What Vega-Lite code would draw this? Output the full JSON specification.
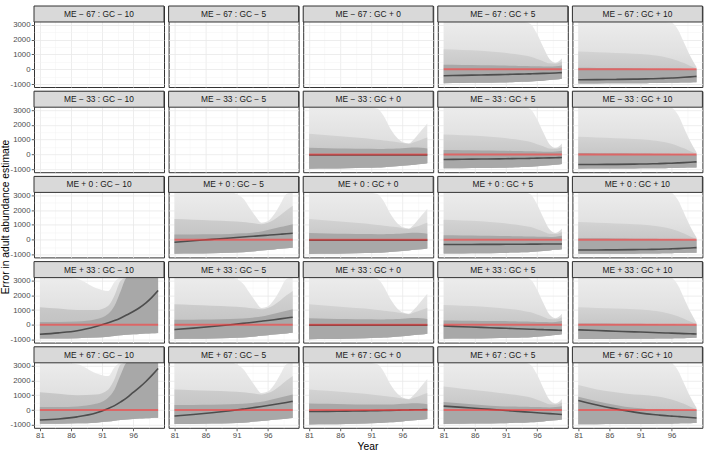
{
"$schema": "https://vega.github.io/schema/vega-lite/v6.json",
"padding": {"left": 0, "top": 5, "right": 3, "bottom": 0},
"bounds": "flush",
"config": {
  "font": "Liberation Sans",
  "view": {"stroke": "#333333", "strokeWidth": 1},
  "axis": {"domain": false, "labelColor": "#4d4d4d", "labelFontSize": 7.8, "tickColor": "#333333", "tickSize": 2.75, "tickWidth": 0.8, "labelPadding": 1.2, "labelOverlap": false, "tickCount": 20},
  "header": {"titleFontSize": 10.3, "titleFontWeight": "normal", "titleColor": "#000000", "labelPadding": 0}
},
"data": {"values": [
{"m":"ME − 67","g":"GC − 10","lab":"ME − 67 : GC − 10"},
{"m":"ME − 67","g":"GC − 5","lab":"ME − 67 : GC − 5"},
{"m":"ME − 67","g":"GC + 0","lab":"ME − 67 : GC + 0"},
{"m":"ME − 67","g":"GC + 5","lab":"ME − 67 : GC + 5"},
{"m":"ME − 67","g":"GC + 10","lab":"ME − 67 : GC + 10"},
{"m":"ME − 33","g":"GC − 10","lab":"ME − 33 : GC − 10"},
{"m":"ME − 33","g":"GC − 5","lab":"ME − 33 : GC − 5"},
{"m":"ME − 33","g":"GC + 0","lab":"ME − 33 : GC + 0"},
{"m":"ME − 33","g":"GC + 5","lab":"ME − 33 : GC + 5"},
{"m":"ME − 33","g":"GC + 10","lab":"ME − 33 : GC + 10"},
{"m":"ME + 0","g":"GC − 10","lab":"ME + 0 : GC − 10"},
{"m":"ME + 0","g":"GC − 5","lab":"ME + 0 : GC − 5"},
{"m":"ME + 0","g":"GC + 0","lab":"ME + 0 : GC + 0"},
{"m":"ME + 0","g":"GC + 5","lab":"ME + 0 : GC + 5"},
{"m":"ME + 0","g":"GC + 10","lab":"ME + 0 : GC + 10"},
{"m":"ME + 33","g":"GC − 10","lab":"ME + 33 : GC − 10"},
{"m":"ME + 33","g":"GC − 5","lab":"ME + 33 : GC − 5"},
{"m":"ME + 33","g":"GC + 0","lab":"ME + 33 : GC + 0"},
{"m":"ME + 33","g":"GC + 5","lab":"ME + 33 : GC + 5"},
{"m":"ME + 33","g":"GC + 10","lab":"ME + 33 : GC + 10"},
{"m":"ME + 67","g":"GC − 10","lab":"ME + 67 : GC − 10"},
{"m":"ME + 67","g":"GC − 5","lab":"ME + 67 : GC − 5"},
{"m":"ME + 67","g":"GC + 0","lab":"ME + 67 : GC + 0"},
{"m":"ME + 67","g":"GC + 5","lab":"ME + 67 : GC + 5"},
{"m":"ME + 67","g":"GC + 10","lab":"ME + 67 : GC + 10"},

{"m":"ME − 67","g":"GC + 5","x":81,"lo":-940,"c":300,"md":1350,"hi":3200,"t":-435},
{"m":"ME − 67","g":"GC + 5","x":84,"lo":-930,"c":285,"md":1300,"hi":3200,"t":-410},
{"m":"ME − 67","g":"GC + 5","x":87,"lo":-915,"c":270,"md":1250,"hi":3200,"t":-385},
{"m":"ME − 67","g":"GC + 5","x":90,"lo":-895,"c":255,"md":1150,"hi":3200,"t":-360},
{"m":"ME − 67","g":"GC + 5","x":92,"lo":-875,"c":240,"md":1050,"hi":3200,"t":-340},
{"m":"ME − 67","g":"GC + 5","x":93,"lo":-865,"c":230,"md":1000,"hi":3200,"t":-330},
{"m":"ME − 67","g":"GC + 5","x":94,"lo":-850,"c":220,"md":930,"hi":3200,"t":-320},
{"m":"ME − 67","g":"GC + 5","x":95,"lo":-830,"c":210,"md":850,"hi":3050,"t":-310},
{"m":"ME − 67","g":"GC + 5","x":96,"lo":-800,"c":200,"md":700,"hi":2400,"t":-295},
{"m":"ME − 67","g":"GC + 5","x":97,"lo":-770,"c":190,"md":550,"hi":1500,"t":-280},
{"m":"ME − 67","g":"GC + 5","x":98,"lo":-730,"c":180,"md":400,"hi":700,"t":-265},
{"m":"ME − 67","g":"GC + 5","x":99,"lo":-690,"c":200,"md":380,"hi":450,"t":-248},
{"m":"ME − 67","g":"GC + 5","x":100,"lo":-640,"c":260,"md":520,"hi":750,"t":-230},

{"m":"ME − 67","g":"GC + 10","x":81,"lo":-960,"c":100,"md":1200,"hi":3200,"t":-710},
{"m":"ME − 67","g":"GC + 10","x":84,"lo":-955,"c":90,"md":1150,"hi":3200,"t":-700},
{"m":"ME − 67","g":"GC + 10","x":87,"lo":-950,"c":80,"md":1100,"hi":3200,"t":-688},
{"m":"ME − 67","g":"GC + 10","x":90,"lo":-945,"c":70,"md":1050,"hi":3200,"t":-670},
{"m":"ME − 67","g":"GC + 10","x":92,"lo":-940,"c":60,"md":1000,"hi":3200,"t":-650},
{"m":"ME − 67","g":"GC + 10","x":93,"lo":-935,"c":55,"md":950,"hi":3200,"t":-640},
{"m":"ME − 67","g":"GC + 10","x":94,"lo":-930,"c":50,"md":900,"hi":3200,"t":-625},
{"m":"ME − 67","g":"GC + 10","x":95,"lo":-925,"c":45,"md":820,"hi":3200,"t":-610},
{"m":"ME − 67","g":"GC + 10","x":96,"lo":-920,"c":40,"md":720,"hi":3150,"t":-590},
{"m":"ME − 67","g":"GC + 10","x":97,"lo":-910,"c":30,"md":580,"hi":2700,"t":-570},
{"m":"ME − 67","g":"GC + 10","x":98,"lo":-900,"c":20,"md":420,"hi":1800,"t":-545},
{"m":"ME − 67","g":"GC + 10","x":99,"lo":-890,"c":10,"md":220,"hi":900,"t":-515},
{"m":"ME − 67","g":"GC + 10","x":100,"lo":-880,"c":0,"md":60,"hi":150,"t":-480},

{"m":"ME − 33","g":"GC + 0","x":81,"lo":-970,"c":450,"md":1400,"hi":3200,"t":-40},
{"m":"ME − 33","g":"GC + 0","x":84,"lo":-955,"c":420,"md":1300,"hi":3200,"t":-40},
{"m":"ME − 33","g":"GC + 0","x":87,"lo":-935,"c":400,"md":1200,"hi":3200,"t":-40},
{"m":"ME − 33","g":"GC + 0","x":90,"lo":-905,"c":380,"md":1100,"hi":3200,"t":-40},
{"m":"ME − 33","g":"GC + 0","x":92,"lo":-880,"c":370,"md":1000,"hi":3100,"t":-40},
{"m":"ME − 33","g":"GC + 0","x":93,"lo":-860,"c":370,"md":950,"hi":2600,"t":-40},
{"m":"ME − 33","g":"GC + 0","x":94,"lo":-830,"c":380,"md":900,"hi":1800,"t":-40},
{"m":"ME − 33","g":"GC + 0","x":95,"lo":-800,"c":400,"md":850,"hi":1200,"t":-40},
{"m":"ME − 33","g":"GC + 0","x":96,"lo":-770,"c":420,"md":780,"hi":850,"t":-40},
{"m":"ME − 33","g":"GC + 0","x":97,"lo":-730,"c":450,"md":720,"hi":750,"t":-40},
{"m":"ME − 33","g":"GC + 0","x":98,"lo":-690,"c":470,"md":850,"hi":1100,"t":-40},
{"m":"ME − 33","g":"GC + 0","x":99,"lo":-650,"c":450,"md":1000,"hi":1600,"t":-40},
{"m":"ME − 33","g":"GC + 0","x":100,"lo":-600,"c":400,"md":1150,"hi":2100,"t":-40},

{"m":"ME − 33","g":"GC + 5","x":81,"lo":-940,"c":300,"md":1350,"hi":3200,"t":-340},
{"m":"ME − 33","g":"GC + 5","x":84,"lo":-930,"c":285,"md":1300,"hi":3200,"t":-325},
{"m":"ME − 33","g":"GC + 5","x":87,"lo":-915,"c":270,"md":1250,"hi":3200,"t":-310},
{"m":"ME − 33","g":"GC + 5","x":90,"lo":-895,"c":255,"md":1150,"hi":3200,"t":-295},
{"m":"ME − 33","g":"GC + 5","x":92,"lo":-875,"c":240,"md":1050,"hi":3200,"t":-282},
{"m":"ME − 33","g":"GC + 5","x":93,"lo":-865,"c":230,"md":1000,"hi":3200,"t":-275},
{"m":"ME − 33","g":"GC + 5","x":94,"lo":-850,"c":220,"md":930,"hi":3200,"t":-268},
{"m":"ME − 33","g":"GC + 5","x":95,"lo":-830,"c":210,"md":850,"hi":3050,"t":-260},
{"m":"ME − 33","g":"GC + 5","x":96,"lo":-800,"c":200,"md":700,"hi":2400,"t":-250},
{"m":"ME − 33","g":"GC + 5","x":97,"lo":-770,"c":190,"md":550,"hi":1500,"t":-240},
{"m":"ME − 33","g":"GC + 5","x":98,"lo":-730,"c":180,"md":400,"hi":700,"t":-230},
{"m":"ME − 33","g":"GC + 5","x":99,"lo":-690,"c":200,"md":380,"hi":450,"t":-220},
{"m":"ME − 33","g":"GC + 5","x":100,"lo":-640,"c":260,"md":520,"hi":750,"t":-210},

{"m":"ME − 33","g":"GC + 10","x":81,"lo":-960,"c":100,"md":1200,"hi":3200,"t":-680},
{"m":"ME − 33","g":"GC + 10","x":84,"lo":-955,"c":90,"md":1150,"hi":3200,"t":-675},
{"m":"ME − 33","g":"GC + 10","x":87,"lo":-950,"c":80,"md":1100,"hi":3200,"t":-668},
{"m":"ME − 33","g":"GC + 10","x":90,"lo":-945,"c":70,"md":1050,"hi":3200,"t":-655},
{"m":"ME − 33","g":"GC + 10","x":92,"lo":-940,"c":60,"md":1000,"hi":3200,"t":-640},
{"m":"ME − 33","g":"GC + 10","x":93,"lo":-935,"c":55,"md":950,"hi":3200,"t":-630},
{"m":"ME − 33","g":"GC + 10","x":94,"lo":-930,"c":50,"md":900,"hi":3200,"t":-620},
{"m":"ME − 33","g":"GC + 10","x":95,"lo":-925,"c":45,"md":820,"hi":3200,"t":-605},
{"m":"ME − 33","g":"GC + 10","x":96,"lo":-920,"c":40,"md":720,"hi":3150,"t":-590},
{"m":"ME − 33","g":"GC + 10","x":97,"lo":-910,"c":30,"md":580,"hi":2700,"t":-570},
{"m":"ME − 33","g":"GC + 10","x":98,"lo":-900,"c":20,"md":420,"hi":1800,"t":-550},
{"m":"ME − 33","g":"GC + 10","x":99,"lo":-890,"c":10,"md":220,"hi":900,"t":-525},
{"m":"ME − 33","g":"GC + 10","x":100,"lo":-880,"c":0,"md":60,"hi":150,"t":-500},

{"m":"ME + 0","g":"GC − 5","x":81,"lo":-950,"c":350,"md":1400,"hi":3200,"t":-170},
{"m":"ME + 0","g":"GC − 5","x":84,"lo":-935,"c":350,"md":1350,"hi":3200,"t":-75},
{"m":"ME + 0","g":"GC − 5","x":87,"lo":-915,"c":360,"md":1300,"hi":3200,"t":20},
{"m":"ME + 0","g":"GC − 5","x":90,"lo":-885,"c":390,"md":1250,"hi":3200,"t":115},
{"m":"ME + 0","g":"GC − 5","x":92,"lo":-850,"c":430,"md":1200,"hi":2800,"t":178},
{"m":"ME + 0","g":"GC − 5","x":93,"lo":-820,"c":460,"md":1150,"hi":2200,"t":210},
{"m":"ME + 0","g":"GC − 5","x":94,"lo":-780,"c":510,"md":1100,"hi":1600,"t":240},
{"m":"ME + 0","g":"GC − 5","x":95,"lo":-740,"c":560,"md":1050,"hi":1150,"t":272},
{"m":"ME + 0","g":"GC − 5","x":96,"lo":-700,"c":650,"md":1150,"hi":1250,"t":304},
{"m":"ME + 0","g":"GC − 5","x":97,"lo":-660,"c":750,"md":1350,"hi":1700,"t":335},
{"m":"ME + 0","g":"GC − 5","x":98,"lo":-620,"c":850,"md":1650,"hi":2400,"t":367},
{"m":"ME + 0","g":"GC − 5","x":99,"lo":-580,"c":950,"md":2000,"hi":3100,"t":398},
{"m":"ME + 0","g":"GC − 5","x":100,"lo":-540,"c":1050,"md":2300,"hi":3200,"t":430},

{"m":"ME + 0","g":"GC + 0","x":81,"lo":-970,"c":450,"md":1400,"hi":3200,"t":-30},
{"m":"ME + 0","g":"GC + 0","x":84,"lo":-955,"c":420,"md":1300,"hi":3200,"t":-30},
{"m":"ME + 0","g":"GC + 0","x":87,"lo":-935,"c":400,"md":1200,"hi":3200,"t":-30},
{"m":"ME + 0","g":"GC + 0","x":90,"lo":-905,"c":380,"md":1100,"hi":3200,"t":-30},
{"m":"ME + 0","g":"GC + 0","x":92,"lo":-880,"c":370,"md":1000,"hi":3100,"t":-30},
{"m":"ME + 0","g":"GC + 0","x":93,"lo":-860,"c":370,"md":950,"hi":2600,"t":-30},
{"m":"ME + 0","g":"GC + 0","x":94,"lo":-830,"c":380,"md":900,"hi":1800,"t":-30},
{"m":"ME + 0","g":"GC + 0","x":95,"lo":-800,"c":400,"md":850,"hi":1200,"t":-30},
{"m":"ME + 0","g":"GC + 0","x":96,"lo":-770,"c":420,"md":780,"hi":850,"t":-30},
{"m":"ME + 0","g":"GC + 0","x":97,"lo":-730,"c":450,"md":720,"hi":750,"t":-30},
{"m":"ME + 0","g":"GC + 0","x":98,"lo":-690,"c":470,"md":850,"hi":1100,"t":-30},
{"m":"ME + 0","g":"GC + 0","x":99,"lo":-650,"c":450,"md":1000,"hi":1600,"t":-30},
{"m":"ME + 0","g":"GC + 0","x":100,"lo":-600,"c":400,"md":1150,"hi":2100,"t":-30},

{"m":"ME + 0","g":"GC + 5","x":81,"lo":-940,"c":300,"md":1350,"hi":3200,"t":-330},
{"m":"ME + 0","g":"GC + 5","x":84,"lo":-930,"c":285,"md":1300,"hi":3200,"t":-325},
{"m":"ME + 0","g":"GC + 5","x":87,"lo":-915,"c":270,"md":1250,"hi":3200,"t":-320},
{"m":"ME + 0","g":"GC + 5","x":90,"lo":-895,"c":255,"md":1150,"hi":3200,"t":-315},
{"m":"ME + 0","g":"GC + 5","x":92,"lo":-875,"c":240,"md":1050,"hi":3200,"t":-310},
{"m":"ME + 0","g":"GC + 5","x":93,"lo":-865,"c":230,"md":1000,"hi":3200,"t":-308},
{"m":"ME + 0","g":"GC + 5","x":94,"lo":-850,"c":220,"md":930,"hi":3200,"t":-305},
{"m":"ME + 0","g":"GC + 5","x":95,"lo":-830,"c":210,"md":850,"hi":3050,"t":-302},
{"m":"ME + 0","g":"GC + 5","x":96,"lo":-800,"c":200,"md":700,"hi":2400,"t":-300},
{"m":"ME + 0","g":"GC + 5","x":97,"lo":-770,"c":190,"md":550,"hi":1500,"t":-298},
{"m":"ME + 0","g":"GC + 5","x":98,"lo":-730,"c":180,"md":400,"hi":700,"t":-295},
{"m":"ME + 0","g":"GC + 5","x":99,"lo":-690,"c":200,"md":380,"hi":450,"t":-292},
{"m":"ME + 0","g":"GC + 5","x":100,"lo":-640,"c":260,"md":520,"hi":750,"t":-290},

{"m":"ME + 0","g":"GC + 10","x":81,"lo":-960,"c":100,"md":1200,"hi":3200,"t":-700},
{"m":"ME + 0","g":"GC + 10","x":84,"lo":-955,"c":90,"md":1150,"hi":3200,"t":-695},
{"m":"ME + 0","g":"GC + 10","x":87,"lo":-950,"c":80,"md":1100,"hi":3200,"t":-688},
{"m":"ME + 0","g":"GC + 10","x":90,"lo":-945,"c":70,"md":1050,"hi":3200,"t":-675},
{"m":"ME + 0","g":"GC + 10","x":92,"lo":-940,"c":60,"md":1000,"hi":3200,"t":-662},
{"m":"ME + 0","g":"GC + 10","x":93,"lo":-935,"c":55,"md":950,"hi":3200,"t":-655},
{"m":"ME + 0","g":"GC + 10","x":94,"lo":-930,"c":50,"md":900,"hi":3200,"t":-645},
{"m":"ME + 0","g":"GC + 10","x":95,"lo":-925,"c":45,"md":820,"hi":3200,"t":-633},
{"m":"ME + 0","g":"GC + 10","x":96,"lo":-920,"c":40,"md":720,"hi":3150,"t":-620},
{"m":"ME + 0","g":"GC + 10","x":97,"lo":-910,"c":30,"md":580,"hi":2700,"t":-605},
{"m":"ME + 0","g":"GC + 10","x":98,"lo":-900,"c":20,"md":420,"hi":1800,"t":-585},
{"m":"ME + 0","g":"GC + 10","x":99,"lo":-890,"c":10,"md":220,"hi":900,"t":-563},
{"m":"ME + 0","g":"GC + 10","x":100,"lo":-880,"c":0,"md":60,"hi":150,"t":-540},

{"m":"ME + 33","g":"GC − 10","x":81,"lo":-930,"c":200,"md":1200,"hi":3200,"t":-632},
{"m":"ME + 33","g":"GC − 10","x":84,"lo":-920,"c":200,"md":1100,"hi":3200,"t":-540},
{"m":"ME + 33","g":"GC − 10","x":87,"lo":-900,"c":230,"md":1000,"hi":3100,"t":-400},
{"m":"ME + 33","g":"GC − 10","x":90,"lo":-860,"c":380,"md":1000,"hi":2500,"t":-110},
{"m":"ME + 33","g":"GC − 10","x":92,"lo":-800,"c":750,"md":1300,"hi":2300,"t":140},
{"m":"ME + 33","g":"GC − 10","x":93,"lo":-760,"c":1300,"md":2000,"hi":2900,"t":290},
{"m":"ME + 33","g":"GC − 10","x":94,"lo":-710,"c":2300,"md":3000,"hi":3200,"t":470},
{"m":"ME + 33","g":"GC − 10","x":95,"lo":-670,"c":3200,"md":3200,"hi":3200,"t":680},
{"m":"ME + 33","g":"GC − 10","x":96,"lo":-640,"c":3200,"md":3200,"hi":3200,"t":903},
{"m":"ME + 33","g":"GC − 10","x":97,"lo":-610,"c":3200,"md":3200,"hi":3200,"t":1160},
{"m":"ME + 33","g":"GC − 10","x":98,"lo":-590,"c":3200,"md":3200,"hi":3200,"t":1470},
{"m":"ME + 33","g":"GC − 10","x":99,"lo":-570,"c":3200,"md":3200,"hi":3200,"t":1860},
{"m":"ME + 33","g":"GC − 10","x":100,"lo":-550,"c":3200,"md":3200,"hi":3200,"t":2325},

{"m":"ME + 33","g":"GC − 5","x":81,"lo":-950,"c":350,"md":1400,"hi":3200,"t":-320},
{"m":"ME + 33","g":"GC − 5","x":84,"lo":-935,"c":350,"md":1350,"hi":3200,"t":-223},
{"m":"ME + 33","g":"GC − 5","x":87,"lo":-915,"c":360,"md":1300,"hi":3200,"t":-113},
{"m":"ME + 33","g":"GC − 5","x":90,"lo":-885,"c":390,"md":1250,"hi":3200,"t":11},
{"m":"ME + 33","g":"GC − 5","x":92,"lo":-850,"c":430,"md":1200,"hi":2800,"t":101},
{"m":"ME + 33","g":"GC − 5","x":93,"lo":-820,"c":460,"md":1150,"hi":2200,"t":148},
{"m":"ME + 33","g":"GC − 5","x":94,"lo":-780,"c":510,"md":1100,"hi":1600,"t":197},
{"m":"ME + 33","g":"GC − 5","x":95,"lo":-740,"c":560,"md":1050,"hi":1150,"t":247},
{"m":"ME + 33","g":"GC − 5","x":96,"lo":-700,"c":650,"md":1150,"hi":1250,"t":299},
{"m":"ME + 33","g":"GC − 5","x":97,"lo":-660,"c":750,"md":1350,"hi":1700,"t":352},
{"m":"ME + 33","g":"GC − 5","x":98,"lo":-620,"c":850,"md":1650,"hi":2400,"t":407},
{"m":"ME + 33","g":"GC − 5","x":99,"lo":-580,"c":950,"md":2000,"hi":3100,"t":463},
{"m":"ME + 33","g":"GC − 5","x":100,"lo":-540,"c":1050,"md":2300,"hi":3200,"t":520},

{"m":"ME + 33","g":"GC + 0","x":81,"lo":-970,"c":450,"md":1400,"hi":3200,"t":-20},
{"m":"ME + 33","g":"GC + 0","x":84,"lo":-955,"c":420,"md":1300,"hi":3200,"t":-20},
{"m":"ME + 33","g":"GC + 0","x":87,"lo":-935,"c":400,"md":1200,"hi":3200,"t":-20},
{"m":"ME + 33","g":"GC + 0","x":90,"lo":-905,"c":380,"md":1100,"hi":3200,"t":-20},
{"m":"ME + 33","g":"GC + 0","x":92,"lo":-880,"c":370,"md":1000,"hi":3100,"t":-20},
{"m":"ME + 33","g":"GC + 0","x":93,"lo":-860,"c":370,"md":950,"hi":2600,"t":-20},
{"m":"ME + 33","g":"GC + 0","x":94,"lo":-830,"c":380,"md":900,"hi":1800,"t":-20},
{"m":"ME + 33","g":"GC + 0","x":95,"lo":-800,"c":400,"md":850,"hi":1200,"t":-20},
{"m":"ME + 33","g":"GC + 0","x":96,"lo":-770,"c":420,"md":780,"hi":850,"t":-20},
{"m":"ME + 33","g":"GC + 0","x":97,"lo":-730,"c":450,"md":720,"hi":750,"t":-20},
{"m":"ME + 33","g":"GC + 0","x":98,"lo":-690,"c":470,"md":850,"hi":1100,"t":-20},
{"m":"ME + 33","g":"GC + 0","x":99,"lo":-650,"c":450,"md":1000,"hi":1600,"t":-20},
{"m":"ME + 33","g":"GC + 0","x":100,"lo":-600,"c":400,"md":1150,"hi":2100,"t":-20},

{"m":"ME + 33","g":"GC + 5","x":81,"lo":-940,"c":300,"md":1350,"hi":3200,"t":-80},
{"m":"ME + 33","g":"GC + 5","x":84,"lo":-930,"c":285,"md":1300,"hi":3200,"t":-126},
{"m":"ME + 33","g":"GC + 5","x":87,"lo":-915,"c":270,"md":1250,"hi":3200,"t":-172},
{"m":"ME + 33","g":"GC + 5","x":90,"lo":-895,"c":255,"md":1150,"hi":3200,"t":-217},
{"m":"ME + 33","g":"GC + 5","x":92,"lo":-875,"c":240,"md":1050,"hi":3200,"t":-248},
{"m":"ME + 33","g":"GC + 5","x":93,"lo":-865,"c":230,"md":1000,"hi":3200,"t":-263},
{"m":"ME + 33","g":"GC + 5","x":94,"lo":-850,"c":220,"md":930,"hi":3200,"t":-279},
{"m":"ME + 33","g":"GC + 5","x":95,"lo":-830,"c":210,"md":850,"hi":3050,"t":-294},
{"m":"ME + 33","g":"GC + 5","x":96,"lo":-800,"c":200,"md":700,"hi":2400,"t":-309},
{"m":"ME + 33","g":"GC + 5","x":97,"lo":-770,"c":190,"md":550,"hi":1500,"t":-325},
{"m":"ME + 33","g":"GC + 5","x":98,"lo":-730,"c":180,"md":400,"hi":700,"t":-340},
{"m":"ME + 33","g":"GC + 5","x":99,"lo":-690,"c":200,"md":380,"hi":450,"t":-355},
{"m":"ME + 33","g":"GC + 5","x":100,"lo":-640,"c":260,"md":520,"hi":750,"t":-370},

{"m":"ME + 33","g":"GC + 10","x":81,"lo":-960,"c":100,"md":1200,"hi":3200,"t":-340},
{"m":"ME + 33","g":"GC + 10","x":84,"lo":-955,"c":90,"md":1150,"hi":3200,"t":-384},
{"m":"ME + 33","g":"GC + 10","x":87,"lo":-950,"c":80,"md":1100,"hi":3200,"t":-428},
{"m":"ME + 33","g":"GC + 10","x":90,"lo":-945,"c":70,"md":1050,"hi":3200,"t":-472},
{"m":"ME + 33","g":"GC + 10","x":92,"lo":-940,"c":60,"md":1000,"hi":3200,"t":-502},
{"m":"ME + 33","g":"GC + 10","x":93,"lo":-935,"c":55,"md":950,"hi":3200,"t":-517},
{"m":"ME + 33","g":"GC + 10","x":94,"lo":-930,"c":50,"md":900,"hi":3200,"t":-531},
{"m":"ME + 33","g":"GC + 10","x":95,"lo":-925,"c":45,"md":820,"hi":3200,"t":-546},
{"m":"ME + 33","g":"GC + 10","x":96,"lo":-920,"c":40,"md":720,"hi":3150,"t":-561},
{"m":"ME + 33","g":"GC + 10","x":97,"lo":-910,"c":30,"md":580,"hi":2700,"t":-576},
{"m":"ME + 33","g":"GC + 10","x":98,"lo":-900,"c":20,"md":420,"hi":1800,"t":-590},
{"m":"ME + 33","g":"GC + 10","x":99,"lo":-890,"c":10,"md":220,"hi":900,"t":-605},
{"m":"ME + 33","g":"GC + 10","x":100,"lo":-880,"c":0,"md":60,"hi":150,"t":-620},

{"m":"ME + 67","g":"GC − 10","x":81,"lo":-930,"c":200,"md":1200,"hi":3200,"t":-677},
{"m":"ME + 67","g":"GC − 10","x":84,"lo":-920,"c":200,"md":1100,"hi":3200,"t":-600},
{"m":"ME + 67","g":"GC − 10","x":87,"lo":-900,"c":240,"md":1000,"hi":3100,"t":-460},
{"m":"ME + 67","g":"GC − 10","x":90,"lo":-850,"c":420,"md":1050,"hi":2500,"t":-200},
{"m":"ME + 67","g":"GC − 10","x":92,"lo":-780,"c":850,"md":1400,"hi":2300,"t":110},
{"m":"ME + 67","g":"GC − 10","x":93,"lo":-730,"c":1400,"md":2100,"hi":2900,"t":300},
{"m":"ME + 67","g":"GC − 10","x":94,"lo":-680,"c":2400,"md":3100,"hi":3200,"t":560},
{"m":"ME + 67","g":"GC − 10","x":95,"lo":-640,"c":3200,"md":3200,"hi":3200,"t":840},
{"m":"ME + 67","g":"GC − 10","x":96,"lo":-600,"c":3200,"md":3200,"hi":3200,"t":1196},
{"m":"ME + 67","g":"GC − 10","x":97,"lo":-570,"c":3200,"md":3200,"hi":3200,"t":1540},
{"m":"ME + 67","g":"GC − 10","x":98,"lo":-550,"c":3200,"md":3200,"hi":3200,"t":1920},
{"m":"ME + 67","g":"GC − 10","x":99,"lo":-530,"c":3200,"md":3200,"hi":3200,"t":2350},
{"m":"ME + 67","g":"GC − 10","x":100,"lo":-520,"c":3200,"md":3200,"hi":3200,"t":2820},

{"m":"ME + 67","g":"GC − 5","x":81,"lo":-950,"c":350,"md":1400,"hi":3200,"t":-400},
{"m":"ME + 67","g":"GC − 5","x":84,"lo":-935,"c":350,"md":1350,"hi":3200,"t":-303},
{"m":"ME + 67","g":"GC − 5","x":87,"lo":-915,"c":360,"md":1300,"hi":3200,"t":-183},
{"m":"ME + 67","g":"GC − 5","x":90,"lo":-885,"c":390,"md":1250,"hi":3200,"t":-42},
{"m":"ME + 67","g":"GC − 5","x":92,"lo":-850,"c":430,"md":1200,"hi":2800,"t":65},
{"m":"ME + 67","g":"GC − 5","x":93,"lo":-820,"c":460,"md":1150,"hi":2200,"t":122},
{"m":"ME + 67","g":"GC − 5","x":94,"lo":-780,"c":510,"md":1100,"hi":1600,"t":181},
{"m":"ME + 67","g":"GC − 5","x":95,"lo":-740,"c":560,"md":1050,"hi":1150,"t":243},
{"m":"ME + 67","g":"GC − 5","x":96,"lo":-700,"c":650,"md":1150,"hi":1250,"t":308},
{"m":"ME + 67","g":"GC − 5","x":97,"lo":-660,"c":750,"md":1350,"hi":1700,"t":375},
{"m":"ME + 67","g":"GC − 5","x":98,"lo":-620,"c":850,"md":1650,"hi":2400,"t":444},
{"m":"ME + 67","g":"GC − 5","x":99,"lo":-580,"c":950,"md":2000,"hi":3100,"t":515},
{"m":"ME + 67","g":"GC − 5","x":100,"lo":-540,"c":1050,"md":2300,"hi":3200,"t":590},

{"m":"ME + 67","g":"GC + 0","x":81,"lo":-970,"c":450,"md":1400,"hi":3200,"t":-100},
{"m":"ME + 67","g":"GC + 0","x":84,"lo":-955,"c":420,"md":1300,"hi":3200,"t":-85},
{"m":"ME + 67","g":"GC + 0","x":87,"lo":-935,"c":400,"md":1200,"hi":3200,"t":-70},
{"m":"ME + 67","g":"GC + 0","x":90,"lo":-905,"c":380,"md":1100,"hi":3200,"t":-55},
{"m":"ME + 67","g":"GC + 0","x":92,"lo":-880,"c":370,"md":1000,"hi":3100,"t":-40},
{"m":"ME + 67","g":"GC + 0","x":93,"lo":-860,"c":370,"md":950,"hi":2600,"t":-30},
{"m":"ME + 67","g":"GC + 0","x":94,"lo":-830,"c":380,"md":900,"hi":1800,"t":-20},
{"m":"ME + 67","g":"GC + 0","x":95,"lo":-800,"c":400,"md":850,"hi":1200,"t":-10},
{"m":"ME + 67","g":"GC + 0","x":96,"lo":-770,"c":420,"md":780,"hi":850,"t":0},
{"m":"ME + 67","g":"GC + 0","x":97,"lo":-730,"c":450,"md":720,"hi":750,"t":10},
{"m":"ME + 67","g":"GC + 0","x":98,"lo":-690,"c":470,"md":850,"hi":1100,"t":18},
{"m":"ME + 67","g":"GC + 0","x":99,"lo":-650,"c":450,"md":1000,"hi":1600,"t":25},
{"m":"ME + 67","g":"GC + 0","x":100,"lo":-600,"c":400,"md":1150,"hi":2100,"t":30},

{"m":"ME + 67","g":"GC + 5","x":81,"lo":-940,"c":550,"md":1600,"hi":3200,"t":270},
{"m":"ME + 67","g":"GC + 5","x":84,"lo":-930,"c":450,"md":1450,"hi":3200,"t":180},
{"m":"ME + 67","g":"GC + 5","x":87,"lo":-915,"c":350,"md":1300,"hi":3200,"t":90},
{"m":"ME + 67","g":"GC + 5","x":90,"lo":-895,"c":260,"md":1150,"hi":3200,"t":0},
{"m":"ME + 67","g":"GC + 5","x":92,"lo":-875,"c":240,"md":1050,"hi":3200,"t":-60},
{"m":"ME + 67","g":"GC + 5","x":93,"lo":-865,"c":230,"md":1000,"hi":3200,"t":-90},
{"m":"ME + 67","g":"GC + 5","x":94,"lo":-850,"c":220,"md":930,"hi":3200,"t":-120},
{"m":"ME + 67","g":"GC + 5","x":95,"lo":-830,"c":210,"md":850,"hi":3050,"t":-150},
{"m":"ME + 67","g":"GC + 5","x":96,"lo":-800,"c":200,"md":700,"hi":2400,"t":-180},
{"m":"ME + 67","g":"GC + 5","x":97,"lo":-770,"c":190,"md":550,"hi":1500,"t":-210},
{"m":"ME + 67","g":"GC + 5","x":98,"lo":-730,"c":180,"md":400,"hi":700,"t":-240},
{"m":"ME + 67","g":"GC + 5","x":99,"lo":-690,"c":200,"md":380,"hi":450,"t":-270},
{"m":"ME + 67","g":"GC + 5","x":100,"lo":-640,"c":260,"md":520,"hi":750,"t":-300},

{"m":"ME + 67","g":"GC + 10","x":81,"lo":-960,"c":900,"md":1700,"hi":3200,"t":650},
{"m":"ME + 67","g":"GC + 10","x":84,"lo":-955,"c":600,"md":1400,"hi":3200,"t":340},
{"m":"ME + 67","g":"GC + 10","x":87,"lo":-950,"c":350,"md":1200,"hi":3200,"t":80},
{"m":"ME + 67","g":"GC + 10","x":90,"lo":-945,"c":150,"md":1050,"hi":3200,"t":-140},
{"m":"ME + 67","g":"GC + 10","x":92,"lo":-940,"c":80,"md":1000,"hi":3200,"t":-255},
{"m":"ME + 67","g":"GC + 10","x":93,"lo":-935,"c":60,"md":950,"hi":3200,"t":-300},
{"m":"ME + 67","g":"GC + 10","x":94,"lo":-930,"c":50,"md":900,"hi":3200,"t":-340},
{"m":"ME + 67","g":"GC + 10","x":95,"lo":-925,"c":45,"md":820,"hi":3200,"t":-378},
{"m":"ME + 67","g":"GC + 10","x":96,"lo":-920,"c":40,"md":720,"hi":3150,"t":-410},
{"m":"ME + 67","g":"GC + 10","x":97,"lo":-910,"c":30,"md":580,"hi":2700,"t":-440},
{"m":"ME + 67","g":"GC + 10","x":98,"lo":-900,"c":20,"md":420,"hi":1800,"t":-470},
{"m":"ME + 67","g":"GC + 10","x":99,"lo":-890,"c":10,"md":220,"hi":900,"t":-505},
{"m":"ME + 67","g":"GC + 10","x":100,"lo":-880,"c":0,"md":60,"hi":150,"t":-540}
]},
"facet": {
  "row": {"field": "m", "type": "nominal", "title": "Error in adult abundance estimate", "sort": ["ME − 67","ME − 33","ME + 0","ME + 33","ME + 67"], "header": {"labels": false, "titleOrient": "left", "titlePadding": -11}},
  "column": {"field": "g", "type": "nominal", "title": "Year", "sort": ["GC − 10","GC − 5","GC + 0","GC + 5","GC + 10"], "header": {"labels": false, "titleOrient": "bottom", "titlePadding": -8.5}}
},
"spacing": {"row": 4.2, "column": 4.6},
"spec": {
  "width": 130,
  "height": 81,
  "layer": [
    {
      "transform": [{"filter": "datum.x != null"}],
      "mark": {"type": "area", "interpolate": "monotone",
        "color": {"gradient": "linear", "x1": 0, "y1": 0, "x2": 0, "y2": 1,
          "stops": [{"offset": 0, "color": "#ececec"}, {"offset": 0.5, "color": "#e1e1e1"}, {"offset": 1, "color": "#d0d0d0"}]}},
      "encoding": {
        "x": {"field": "x", "type": "quantitative", "title": null,
          "scale": {"domain": [80.05, 100.95], "nice": false, "zero": false},
          "axis": {"values": [81, 83.5, 86, 88.5, 91, 93.5, 96, 98.5], "format": "d", "labelFlush": false, "labelOverlap": false, "tickCount": 20,
            "labelExpr": "datum.value % 5 === 1 ? datum.label : ''",
            "tickOpacity": {"condition": {"test": "datum.value % 5 !== 1", "value": 0}, "value": 1},
            "gridColor": {"condition": {"test": "datum.value % 5 !== 1", "value": "#f2f2f2"}, "value": "#e8e8e8"},
            "gridWidth": {"condition": {"test": "datum.value % 5 !== 1", "value": 0.5}, "value": 0.8}}},
        "y": {"field": "lo", "type": "quantitative", "title": null,
          "scale": {"domain": [-1200, 4283], "nice": false, "zero": false},
          "axis": {"values": [-1000, -500, 0, 500, 1000, 1500, 2000, 2500, 3000], "format": "d", "labelOverlap": false, "tickCount": 20,
            "labelExpr": "datum.value % 1000 === 0 ? replace(datum.label, '\u2212', '-') : ''",
            "tickOpacity": {"condition": {"test": "datum.value % 1000 !== 0", "value": 0}, "value": 1},
            "gridColor": {"condition": {"test": "datum.value % 1000 !== 0", "value": "#f2f2f2"}, "value": "#e8e8e8"},
            "gridWidth": {"condition": {"test": "datum.value % 1000 !== 0", "value": 0.5}, "value": 0.8}}},
        "y2": {"field": "hi"}
      }
    },
    {
      "transform": [{"filter": "datum.x != null"}],
      "mark": {"type": "area", "interpolate": "monotone",
        "color": {"gradient": "linear", "x1": 0, "y1": 0, "x2": 0, "y2": 1,
          "stops": [{"offset": 0, "color": "#d3d3d3"}, {"offset": 1, "color": "#bdbdbd"}]}},
      "encoding": {"x": {"field": "x", "type": "quantitative"}, "y": {"field": "lo", "type": "quantitative"}, "y2": {"field": "md"}}
    },
    {
      "transform": [{"filter": "datum.x != null"}],
      "mark": {"type": "area", "color": "#a8a8a8", "interpolate": "monotone"},
      "encoding": {"x": {"field": "x", "type": "quantitative"}, "y": {"field": "lo", "type": "quantitative"}, "y2": {"field": "c"}}
    },
    {
      "transform": [{"filter": "datum.x != null"}],
      "mark": {"type": "line", "color": "#4d4d4d", "strokeWidth": 1.6, "interpolate": "monotone"},
      "encoding": {"x": {"field": "x", "type": "quantitative"}, "y": {"field": "t", "type": "quantitative"}}
    },
    {
      "transform": [{"filter": "datum.x != null"}],
      "mark": {"type": "line", "color": "#ff3b3b", "strokeWidth": 2, "opacity": 0.6},
      "encoding": {"x": {"field": "x", "type": "quantitative"}, "y": {"datum": 0}}
    },
    {
      "transform": [{"filter": "datum.lab != null"}],
      "mark": {"type": "rect", "fill": "#d9d9d9", "stroke": "#333333", "strokeWidth": 1},
      "encoding": {"x": {"datum": 80.05}, "x2": {"datum": 100.95}, "y": {"datum": 3200}, "y2": {"datum": 4283}}
    },
    {
      "transform": [{"filter": "datum.lab != null"}],
      "mark": {"type": "text", "fontSize": 8.4, "color": "#1a1a1a", "baseline": "middle", "align": "center"},
      "encoding": {"x": {"datum": 90.5}, "y": {"datum": 3741}, "text": {"field": "lab"}}
    }
  ]
}
}
